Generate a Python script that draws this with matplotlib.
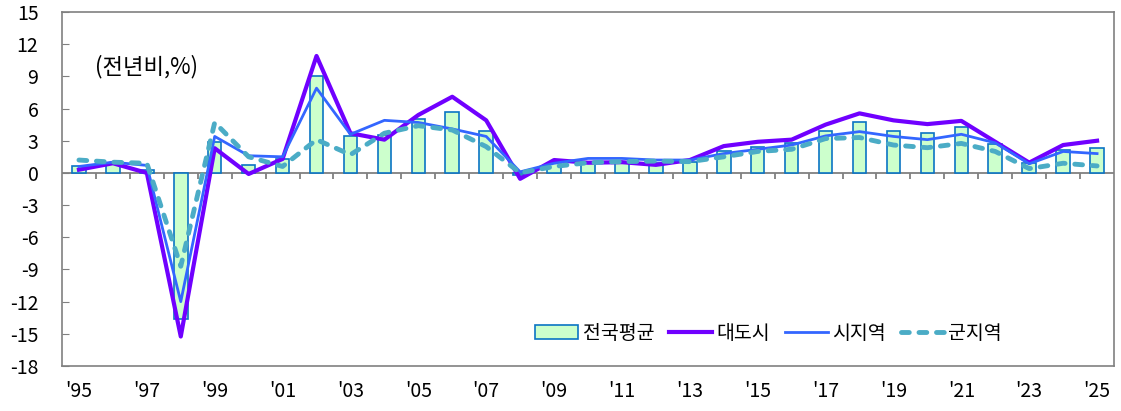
import numpy as np
import matplotlib.pyplot as plt
from matplotlib.patches import Patch
from matplotlib.lines import Line2D

plt.rcParams['font.family'] = ['Noto Sans CJK KR', 'DejaVu Sans']
plt.rcParams['axes.unicode_minus'] = False

years = np.arange(1995, 2026)
national = [0.6, 0.9, 0.3, -13.6, 2.9, 0.75, 1.3, 9.0, 3.4, 3.5, 5.0, 5.65, 3.9, -0.2,
            0.9, 1.05, 1.05, 0.9, 1.05, 2.0, 2.45, 2.75, 3.95, 4.7, 3.95, 3.7, 4.25,
            2.7, 0.9, 2.1, 2.3]
metro = [0.3, 0.9, 0.0, -15.25, 2.3, -0.1, 1.3, 10.9, 3.7, 3.1, 5.4, 7.1, 4.9, -0.55,
         1.2, 0.95, 1.0, 0.75, 1.2, 2.5, 2.9, 3.1, 4.5, 5.55, 4.9, 4.55, 4.85,
         2.9, 0.96, 2.6, 3.0]
city = [0.6, 1.0, 0.7, -12.0, 3.4, 1.6, 1.5, 7.9, 3.6, 4.9, 4.7, 4.1, 3.4, 0.1,
        0.9, 1.35, 1.35, 1.2, 1.2, 1.8, 2.2, 2.6, 3.45, 3.85, 3.4, 3.1, 3.6,
        2.8, 0.85, 2.0, 1.8]
county = [1.2, 1.0, 0.9, -8.7, 4.7, 1.5, 0.6, 3.1, 1.7, 3.7, 4.4, 4.0, 2.45, 0.0,
          0.6, 0.95, 1.05, 1.1, 1.05, 1.5, 2.0, 2.2, 3.2, 3.3, 2.6, 2.35, 2.75,
          2.0, 0.4, 0.9, 0.65]
tick_years = years[::2]
tick_labels = ["'%02d" % (y % 100) for y in tick_years]

c_bar, c_edge = '#ccffcc', '#0a74c4'
c_metro, c_city, c_county = '#7000ff', '#3366ff', '#4bacc6'
gray = '#808080'
county_dash = (1.6, 2.0)

fig = plt.figure(figsize=(11.21, 4.11), dpi=100)
ax = fig.add_axes([0.0553, 0.1095, 0.9385, 0.8613])

ax.bar(years, national, width=0.4, color=c_bar, edgecolor=c_edge, linewidth=1.2, zorder=2)
ax.plot(years, metro, color=c_metro, lw=3.0, zorder=3)
ax.plot(years, city, color=c_city, lw=2.0, zorder=4)
ax.plot(years, county, color=c_county, lw=3.5, dashes=county_dash,
        dash_capstyle='round', zorder=5)

ax.set_ylim(-18, 15)
ax.set_xlim(years[0] - 0.5, years[-1] + 0.5)
ax.set_yticks(np.arange(-18, 16, 3))
ax.tick_params(axis='y', direction='in', length=5, color=gray, labelsize=14, pad=17)
ax.set_xticks(tick_years, tick_labels)
ax.tick_params(axis='x', length=0, labelsize=14, pad=11)
for s in ax.spines.values():
    s.set_color(gray)
    s.set_linewidth(1.2)

# category axis on zero, with short marks between the years
ax.axhline(0, color=gray, lw=1.3, zorder=1.5)
ax.vlines(years[:-1] + 0.5, -0.55, 0, color=gray, lw=1.3, zorder=6)

ax.text(0.031, 0.847, '(전년비,%)', transform=ax.transAxes, fontsize=16, va='center')

handles = [Patch(facecolor=c_bar, edgecolor=c_edge, linewidth=1.2),
           Line2D([], [], color=c_metro, lw=3.0),
           Line2D([], [], color=c_city, lw=2.0),
           Line2D([], [], color=c_county, lw=3.5, dashes=county_dash, dash_capstyle='round')]
ax.legend(handles, ['전국평균', '대도시', '시지역', '군지역'], ncol=4, frameon=False,
          loc='center right', bbox_to_anchor=(0.8935, 0.093), fontsize=14,
          handlelength=2.2, handletextpad=0.25, columnspacing=0.75,
          borderaxespad=0, borderpad=0)

fig.savefig('out.png', dpi=100)
